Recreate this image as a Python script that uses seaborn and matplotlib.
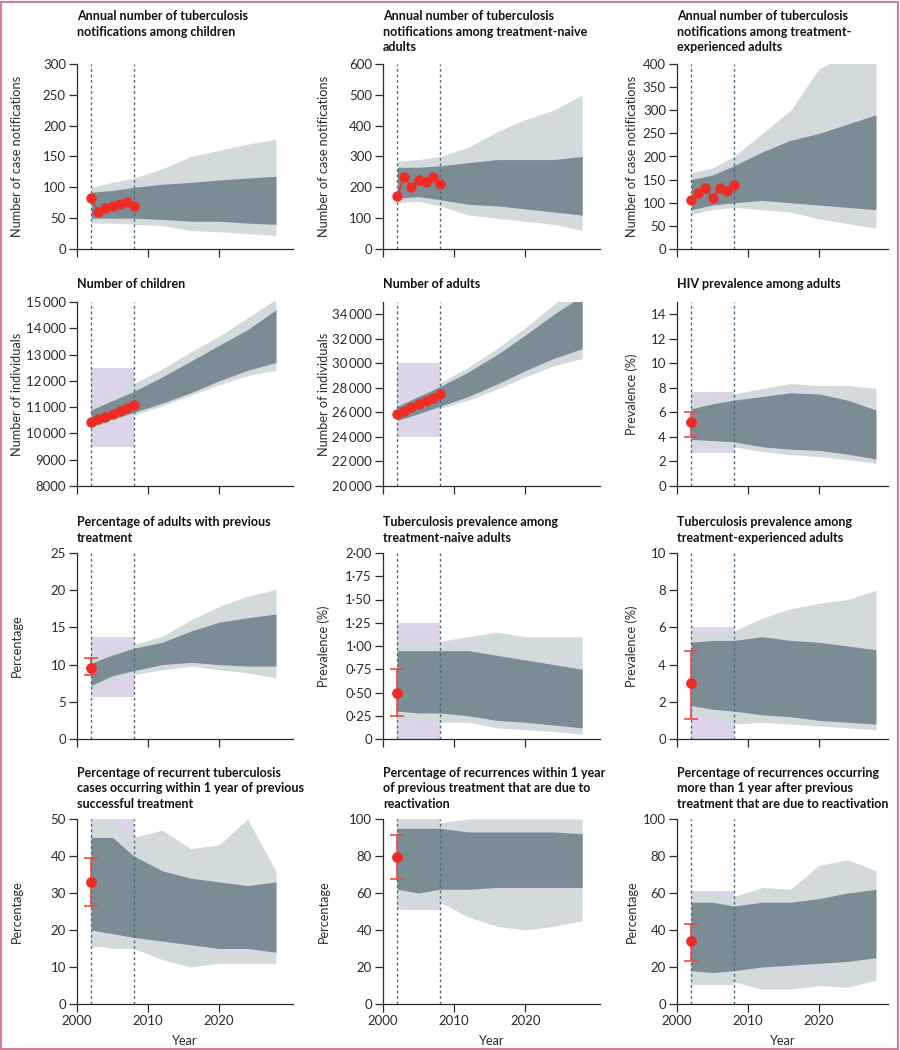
import numpy as np
import pandas as pd
import matplotlib
matplotlib.use('Agg')
import matplotlib.pyplot as plt
import seaborn as sns
from matplotlib.ticker import FuncFormatter
from matplotlib.patches import Rectangle

# --- data ------------------------------------------------------------------
# simulated trajectories are summarised as envelopes: faint outer range and dense core
years = [2002, 2005, 2008, 2012, 2016, 2020, 2024, 2028]
obs_years = [2002, 2003, 2004, 2005, 2006, 2007, 2008]

# 1 notifications, children
notif_child_outer_lo = [42, 42, 40, 38, 30, 28, 25, 22]
notif_child_core_lo = [50, 50, 50, 48, 45, 45, 42, 40]
notif_child_core_hi = [92, 95, 100, 105, 108, 112, 115, 118]
notif_child_outer_hi = [100, 108, 115, 130, 150, 160, 170, 178]
notif_child_obs = [82, 60, 66, 69, 73, 77, 69]

# 2 notifications, treatment-naive adults
notif_naive_outer_lo = [150, 155, 140, 110, 100, 90, 80, 60]
notif_naive_core_lo = [165, 170, 160, 145, 140, 130, 120, 110]
notif_naive_core_hi = [265, 265, 270, 280, 290, 290, 290, 300]
notif_naive_outer_hi = [285, 290, 300, 330, 380, 420, 450, 500]
notif_naive_obs = [172, 233, 200, 223, 216, 232, 210]

# 3 notifications, treatment-experienced adults
notif_exp_outer_lo = [75, 85, 90, 85, 80, 65, 55, 45]
notif_exp_core_lo = [85, 95, 100, 105, 100, 95, 90, 85]
notif_exp_core_hi = [150, 160, 180, 210, 235, 250, 270, 290]
notif_exp_outer_hi = [165, 175, 200, 250, 300, 390, 420, 420]
notif_exp_obs = [105, 120, 131, 110, 131, 126, 138]

# 4 number of children
children_outer_lo = [10150, 10450, 10700, 11050, 11450, 11850, 12200, 12400]
children_core_lo = [10250, 10550, 10800, 11150, 11550, 12000, 12400, 12700]
children_core_hi = [10900, 11250, 11600, 12150, 12750, 13350, 13950, 14700]
children_outer_hi = [11000, 11450, 11900, 12450, 13100, 13700, 14400, 15100]
children_obs = [10430, 10530, 10640, 10750, 10860, 10960, 11080]
children_box = [9500, 12500]

# 5 number of adults
adults_outer_lo = [25200, 25700, 26300, 27000, 27900, 28900, 29800, 30400]
adults_core_lo = [25350, 25900, 26500, 27300, 28300, 29400, 30400, 31200]
adults_core_hi = [26500, 27300, 28100, 29300, 30700, 32300, 34000, 35500]
adults_outer_hi = [26700, 27500, 28400, 29700, 31200, 32900, 34800, 36500]
adults_obs = [25900, 26150, 26400, 26650, 26950, 27200, 27500]
adults_box = [24000, 30000]

# 6 HIV prevalence
hiv_outer_lo = [3.5, 3.3, 3.2, 2.8, 2.55, 2.4, 2.15, 1.85]
hiv_core_lo = [3.8, 3.7, 3.6, 3.2, 3.0, 2.9, 2.6, 2.2]
hiv_core_hi = [6.3, 6.7, 7.0, 7.3, 7.6, 7.5, 7.0, 6.2]
hiv_outer_hi = [6.6, 7.1, 7.5, 7.95, 8.35, 8.2, 8.2, 7.95]
hiv_obs = [5.2, 4.0, 6.0]
hiv_box = [2.7, 7.7]

# 7 adults with previous treatment
prevtx_outer_lo = [6.8, 8.0, 8.65, 9.3, 9.8, 9.3, 8.9, 8.2]
prevtx_core_lo = [7.2, 8.5, 9.2, 10.0, 10.3, 10.0, 9.8, 9.8]
prevtx_core_hi = [10.2, 11.3, 12.2, 13.0, 14.5, 15.7, 16.3, 16.8]
prevtx_outer_hi = [10.8, 11.8, 12.7, 13.8, 16.0, 17.8, 19.2, 20.1]
prevtx_obs = [9.6, 8.6, 10.9]
prevtx_box = [5.7, 13.7]

# 8 TB prevalence, treatment-naive
tbnaive_outer_lo = [0.22, 0.20, 0.18, 0.18, 0.12, 0.10, 0.08, 0.05]
tbnaive_core_lo = [0.30, 0.28, 0.28, 0.25, 0.20, 0.18, 0.15, 0.12]
tbnaive_core_hi = [0.95, 0.95, 0.95, 0.95, 0.90, 0.85, 0.80, 0.75]
tbnaive_outer_hi = [1.08, 1.10, 1.05, 1.10, 1.15, 1.10, 1.10, 1.10]
tbnaive_obs = [0.50, 0.25, 0.75]
tbnaive_box = [0, 1.25]

# 9 TB prevalence, treatment-experienced
tbexp_outer_lo = [1.4, 1.2, 0.8, 0.9, 0.8, 0.7, 0.6, 0.5]
tbexp_core_lo = [1.8, 1.6, 1.5, 1.3, 1.2, 1.0, 0.9, 0.8]
tbexp_core_hi = [5.2, 5.3, 5.3, 5.5, 5.3, 5.2, 5.0, 4.8]
tbexp_outer_hi = [5.7, 5.8, 5.8, 6.5, 7.0, 7.3, 7.5, 8.0]
tbexp_obs = [3.0, 1.1, 4.75]
tbexp_box = [0, 6]

# 10 recurrences within 1 year
rec1y_outer_lo = [16, 15, 15, 12, 10, 11, 11, 11]
rec1y_core_lo = [20, 19, 18, 17, 16, 15, 15, 14]
rec1y_core_hi = [45, 45, 40, 36, 34, 33, 32, 33]
rec1y_outer_hi = [49, 50, 45, 47, 42, 43, 50, 36]
rec1y_obs = [33, 26.5, 39.5]
rec1y_box = [15.3, 50]

# 11 reactivation among recurrences within 1 year
react1y_outer_lo = [55, 52, 55, 47, 42, 40, 42, 45]
react1y_core_lo = [62, 60, 62, 62, 63, 63, 63, 63]
react1y_core_hi = [95, 95, 95, 93, 93, 93, 93, 92]
react1y_outer_hi = [100, 100, 98, 100, 100, 100, 100, 100]
react1y_obs = [79.5, 67.5, 91.5]
react1y_box = [51, 100]

# 12 reactivation among recurrences after more than 1 year
reactlate_outer_lo = [12, 11, 12, 8, 8, 10, 9, 13]
reactlate_core_lo = [18, 17, 18, 20, 21, 22, 23, 25]
reactlate_core_hi = [55, 55, 53, 55, 55, 57, 60, 62]
reactlate_outer_hi = [60, 60, 58, 63, 62, 75, 78, 72]
reactlate_obs = [34, 23.5, 43.5]
reactlate_box = [10.5, 61]

titles = [
    "Annual number of tuberculosis\nnotifications among children",
    "Annual number of tuberculosis\nnotifications among treatment-naive\nadults",
    "Annual number of tuberculosis\nnotifications among treatment-\nexperienced adults",
    "Number of children",
    "Number of adults",
    "HIV prevalence among adults",
    "Percentage of adults with previous\ntreatment",
    "Tuberculosis prevalence among\ntreatment-naive adults",
    "Tuberculosis prevalence among\ntreatment-experienced adults",
    "Percentage of recurrent tuberculosis\ncases occurring within 1 year of previous\nsuccessful treatment",
    "Percentage of recurrences within 1 year\nof previous treatment that are due to\nreactivation",
    "Percentage of recurrences occurring\nmore than 1 year after previous\ntreatment that are due to reactivation",
]
ylabels = ["Number of case notifications"] * 3 + \
    ["Number of individuals", "Number of individuals", "Prevalence (%)"] + \
    ["Percentage", "Prevalence (%)", "Prevalence (%)"] + ["Percentage"] * 3

# --- style -------------------------------------------------------------------
sns.set_theme(style='ticks')
plt.rcParams['font.family'] = ['Lato', 'DejaVu Sans']
plt.rcParams['axes.linewidth'] = 0.9

RED = '#ee2c24'
PURPLE = '#ddd4ea'
LIGHT = '#d3dade'
DARK = '#7b8c95'
DASH = '#4d6b80'
INK = '#2b2b2b'

panels = [
    (notif_child_outer_lo, notif_child_core_lo, notif_child_core_hi, notif_child_outer_hi, notif_child_obs, None, (0, 300), np.arange(0, 301, 50)),
    (notif_naive_outer_lo, notif_naive_core_lo, notif_naive_core_hi, notif_naive_outer_hi, notif_naive_obs, None, (0, 600), np.arange(0, 601, 100)),
    (notif_exp_outer_lo, notif_exp_core_lo, notif_exp_core_hi, notif_exp_outer_hi, notif_exp_obs, None, (0, 400), np.arange(0, 401, 50)),
    (children_outer_lo, children_core_lo, children_core_hi, children_outer_hi, children_obs, children_box, (8000, 15000), np.arange(8000, 15001, 1000)),
    (adults_outer_lo, adults_core_lo, adults_core_hi, adults_outer_hi, adults_obs, adults_box, (20000, 35000), np.arange(20000, 34001, 2000)),
    (hiv_outer_lo, hiv_core_lo, hiv_core_hi, hiv_outer_hi, hiv_obs, hiv_box, (0, 15), np.arange(0, 15, 2)),
    (prevtx_outer_lo, prevtx_core_lo, prevtx_core_hi, prevtx_outer_hi, prevtx_obs, prevtx_box, (0, 25), np.arange(0, 26, 5)),
    (tbnaive_outer_lo, tbnaive_core_lo, tbnaive_core_hi, tbnaive_outer_hi, tbnaive_obs, tbnaive_box, (0, 2), np.arange(0, 2.01, 0.25)),
    (tbexp_outer_lo, tbexp_core_lo, tbexp_core_hi, tbexp_outer_hi, tbexp_obs, tbexp_box, (0, 10), np.arange(0, 11, 2)),
    (rec1y_outer_lo, rec1y_core_lo, rec1y_core_hi, rec1y_outer_hi, rec1y_obs, rec1y_box, (0, 50), np.arange(0, 51, 10)),
    (react1y_outer_lo, react1y_core_lo, react1y_core_hi, react1y_outer_hi, react1y_obs, react1y_box, (0, 100), np.arange(0, 101, 20)),
    (reactlate_outer_lo, reactlate_core_lo, reactlate_core_hi, reactlate_outer_hi, reactlate_obs, reactlate_box, (0, 100), np.arange(0, 101, 20)),
]


def tick_fmt(decimals):
    def f(v, pos):
        if abs(v) < 1e-9:
            return '0'
        if decimals:
            return f'{v:.2f}'.replace('.', '\u00b7')
        if v >= 10000:
            return f'{int(round(v)):,}'.replace(',', '\u2009')
        return f'{int(round(v))}'
    return FuncFormatter(f)


W, H = 900, 1050
fig = plt.figure(figsize=(9, 10.5), dpi=100)

col_px = [(77, 216, 2030.4), (383, 217, 2030.5), (677, 211, 2029.7)]
row_px = [(64, 249), (302, 486), (553, 739), (819, 1004)]
title_top = [10, 278, 516, 767]
ylabel_x = [17, 324, 632]

for i, (olo, clo, chi, ohi, obs, box, ylim, yticks) in enumerate(panels):
    r, c = divmod(i, 3)
    left, width, xmax = col_px[c]
    top, bottom = row_px[r]
    ax = fig.add_axes([left / W, 1 - bottom / H, width / W, (bottom - top) / H])

    if box is not None:
        ax.fill_between([2002, 2008], box[0], box[1], color=PURPLE, lw=0, zorder=1)
    ax.fill_between(years, olo, ohi, color=LIGHT, lw=0, zorder=2)
    ax.fill_between(years, clo, chi, color=DARK, lw=0, zorder=3)

    for xv in (2002, 2008):
        ax.axvline(xv, color=DASH, lw=1, ls=(0, (2, 2)), zorder=4)

    if len(obs) == 7:
        sns.lineplot(x=obs_years, y=obs, ax=ax, color=RED, lw=1.2, marker='o',
                     markersize=7.5, markeredgewidth=0, zorder=6)
    else:
        eb = ax.errorbar([2002], [obs[0]], yerr=[[obs[0] - obs[1]], [obs[2] - obs[0]]],
                         fmt='none', ecolor='#ef4a3f', elinewidth=1.2, capsize=5,
                         capthick=1.2)
        for cap in eb[1]:
            cap.set_zorder(7)
        for bar in eb[2]:
            bar.set_zorder(7)
        sns.scatterplot(x=[2002], y=[obs[0]], ax=ax, color=RED, s=60,
                        linewidth=0, zorder=8)

    ax.set_xlim(2000, xmax)
    ax.set_ylim(*ylim)
    ax.set_yticks(yticks)
    ax.yaxis.set_major_formatter(tick_fmt(ylim[1] == 2))
    ax.set_xticks([2000, 2010, 2020])
    if r < 3:
        ax.set_xticklabels([])
    else:
        ax.set_xlabel('Year', fontsize=9.2, color=INK, labelpad=6)
    ax.set_ylabel(ylabels[i], fontsize=9.2, color=INK)
    ax.yaxis.label.set(va='center', ha='center', rotation_mode='default')
    ax.yaxis.set_label_coords((ylabel_x[c] - left) / width, 0.5)
    ax.tick_params(direction='out', length=6, width=0.9, colors=INK, labelsize=9.5, pad=2)
    sns.despine(ax=ax)
    for s in ('left', 'bottom'):
        ax.spines[s].set_color(INK)
    ax.set_facecolor('none')

    fig.text(left / W, 1 - title_top[r] / H, titles[i], ha='left', va='top',
             fontsize=9, fontweight='bold', color='#111111', linespacing=1.35)

fig.patches.append(Rectangle((0.001, 0.001), 0.997, 0.997, transform=fig.transFigure,
                             fill=False, edgecolor='#d77d98', lw=1.5))

fig.savefig('out.png', dpi=100)
